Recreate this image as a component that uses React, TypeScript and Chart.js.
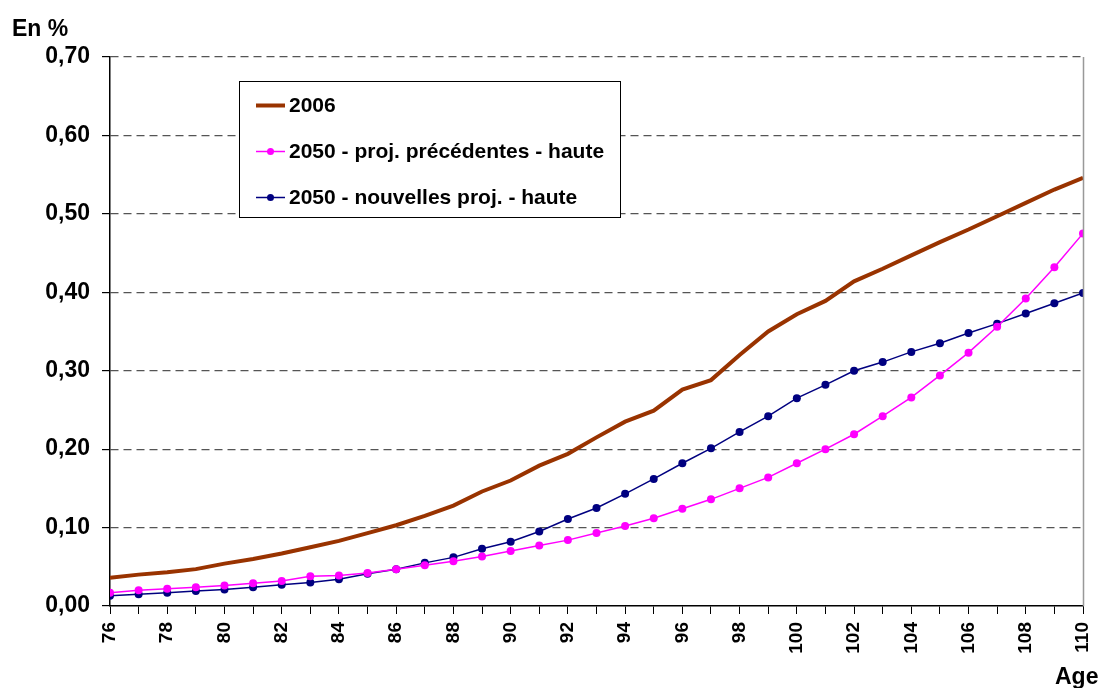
import React, { useEffect, useRef } from "react";
import { Chart, registerables } from "chart.js";

Chart.register(...registerables);

const ages = [76, 77, 78, 79, 80, 81, 82, 83, 84, 85, 86, 87, 88, 89, 90, 91, 92, 93, 94, 95, 96, 97, 98, 99, 100, 101, 102, 103, 104, 105, 106, 107, 108, 109, 110];

const label2006 = "2006";
const labelPrec = "2050 - proj. précédentes - haute";
const labelNouv = "2050 - nouvelles proj. - haute";

const values2006 = [0.036, 0.040, 0.043, 0.047, 0.054, 0.060, 0.067, 0.075, 0.083, 0.093, 0.103, 0.115, 0.128, 0.146, 0.160, 0.179, 0.194, 0.215, 0.235, 0.249, 0.276, 0.288, 0.320, 0.350, 0.372, 0.389, 0.414, 0.430, 0.447, 0.464, 0.480, 0.497, 0.514, 0.531, 0.546];
const valuesPrec = [0.017, 0.020, 0.022, 0.024, 0.026, 0.029, 0.032, 0.038, 0.039, 0.042, 0.047, 0.052, 0.057, 0.063, 0.070, 0.077, 0.084, 0.093, 0.102, 0.112, 0.124, 0.136, 0.150, 0.164, 0.182, 0.200, 0.219, 0.242, 0.266, 0.294, 0.323, 0.356, 0.392, 0.432, 0.475];
const valuesNouv = [0.013, 0.015, 0.017, 0.019, 0.021, 0.024, 0.027, 0.030, 0.034, 0.041, 0.047, 0.055, 0.062, 0.073, 0.082, 0.095, 0.111, 0.125, 0.143, 0.162, 0.182, 0.201, 0.222, 0.242, 0.265, 0.282, 0.300, 0.311, 0.324, 0.335, 0.348, 0.360, 0.373, 0.386, 0.399];

const yTickValues = [0, 0.1, 0.2, 0.3, 0.4, 0.5, 0.6, 0.7];

const FONT = "'Liberation Sans', Arial, sans-serif";

const toPoints = (vals: number[]) => ages.map((a, i) => ({ x: a, y: vals[i] }));

const decorPlugin = {
  id: "decor",
  afterDraw(chart: any) {
    const { ctx, chartArea } = chart;
    ctx.save();
    // right border of plot area
    ctx.strokeStyle = "#999999";
    ctx.lineWidth = 1.5;
    ctx.beginPath();
    ctx.moveTo(chartArea.right + 0.5, chartArea.top);
    ctx.lineTo(chartArea.right + 0.5, chartArea.bottom);
    ctx.stroke();

    // axis titles
    ctx.fillStyle = "#000";
    ctx.font = `bold 23px ${FONT}`;
    ctx.textBaseline = "alphabetic";
    ctx.textAlign = "left";
    ctx.fillText("En %", 12, 36);
    ctx.fillText("Age", 1055, 684);

    // legend box
    const bx = 239.5, by = 81.5, bw = 381, bh = 136;
    ctx.fillStyle = "#fff";
    ctx.fillRect(bx, by, bw, bh);
    ctx.strokeStyle = "#000";
    ctx.lineWidth = 1;
    ctx.strokeRect(bx, by, bw, bh);
    const rows = [105.5, 151.5, 197.5];
    chart.data.datasets.forEach((ds: any, i: number) => {
      const y = rows[i];
      ctx.strokeStyle = ds.borderColor;
      ctx.lineWidth = ds.borderWidth;
      ctx.beginPath();
      ctx.moveTo(256, y);
      ctx.lineTo(285, y);
      ctx.stroke();
      if (ds.pointRadius > 0) {
        ctx.fillStyle = ds.pointBackgroundColor;
        ctx.beginPath();
        ctx.arc(270.5, y, 3.5, 0, Math.PI * 2);
        ctx.fill();
      }
      ctx.fillStyle = "#000";
      ctx.font = `bold 21px ${FONT}`;
      ctx.textBaseline = "middle";
      ctx.fillText(ds.label, 289, y + 1);
    });
    ctx.restore();
  },
};

export default function App() {
  const ref = useRef<HTMLCanvasElement | null>(null);
  useEffect(() => {
    if (!ref.current) return;
    const chart = new Chart(ref.current, {
      type: "line",
      data: {
        datasets: [
          {
            label: label2006,
            data: toPoints(values2006),
            borderColor: "#993300",
            backgroundColor: "#993300",
            borderWidth: 4,
            pointRadius: 0,
            tension: 0,
          },
          {
            label: labelPrec,
            data: toPoints(valuesPrec),
            borderColor: "#FF00FF",
            backgroundColor: "#FF00FF",
            pointBackgroundColor: "#FF00FF",
            pointBorderColor: "#FF00FF",
            borderWidth: 1.5,
            pointRadius: 4,
            pointBorderWidth: 0,
            tension: 0,
          },
          {
            label: labelNouv,
            data: toPoints(valuesNouv),
            borderColor: "#000080",
            backgroundColor: "#000080",
            pointBackgroundColor: "#000080",
            pointBorderColor: "#000080",
            borderWidth: 1.5,
            pointRadius: 4,
            pointBorderWidth: 0,
            tension: 0,
          },
        ],
      },
      options: {
        responsive: false,
        animation: false,
        devicePixelRatio: 1,
        layout: { padding: { top: 57, right: 21, left: 0, bottom: 0 } },
        plugins: {
          legend: { display: false },
          tooltip: { enabled: false },
        },
        scales: {
          x: {
            type: "linear",
            min: 76,
            max: 110,
            afterFit: (s: any) => {
              s.height = 82;
              s.paddingRight = 0;
              s.paddingLeft = 0;
            },
            afterBuildTicks: (s: any) => {
              s.ticks = ages.map((a) => ({ value: a }));
            },
            ticks: {
              autoSkip: false,
              maxRotation: 90,
              minRotation: 90,
              padding: 8,
              color: "#000",
              font: { family: FONT, size: 19, weight: "bold" },
              callback: (v: any) => (Number(v) % 2 === 0 ? String(v) : ""),
            },
            grid: {
              drawOnChartArea: false,
              drawTicks: true,
              tickLength: 8,
              tickColor: "#000",
              color: "#000",
            },
            border: { color: "#000", width: 1.5 },
          },
          y: {
            min: 0,
            max: 0.7,
            afterFit: (s: any) => {
              s.width = 110;
              s.paddingTop = 0;
              s.paddingBottom = 0;
            },
            afterBuildTicks: (s: any) => {
              s.ticks = yTickValues.map((v) => ({ value: v }));
            },
            ticks: {
              padding: 12,
              color: "#000",
              font: { family: FONT, size: 23, weight: "bold" },
              callback: (v: any) => Number(v).toFixed(2).replace(".", ","),
            },
            grid: {
              color: (c: any) => (c.tick && c.tick.value === 0 ? "rgba(0,0,0,0)" : "#555555"),
              tickColor: "#000",
              tickLength: 8,
              lineWidth: 1.2,
              tickBorderDash: [],
            },
            border: { color: "#000", width: 1.5, dash: [8, 5] },
          },
        },
      },
      plugins: [decorPlugin],
    } as any);
    return () => chart.destroy();
  }, []);
  return (
    <div style={{ position: "fixed", left: 0, top: 0, width: 1104, height: 688, background: "#fff" }}>
      <canvas ref={ref} width={1104} height={688} style={{ display: "block" }} />
    </div>
  );
}
